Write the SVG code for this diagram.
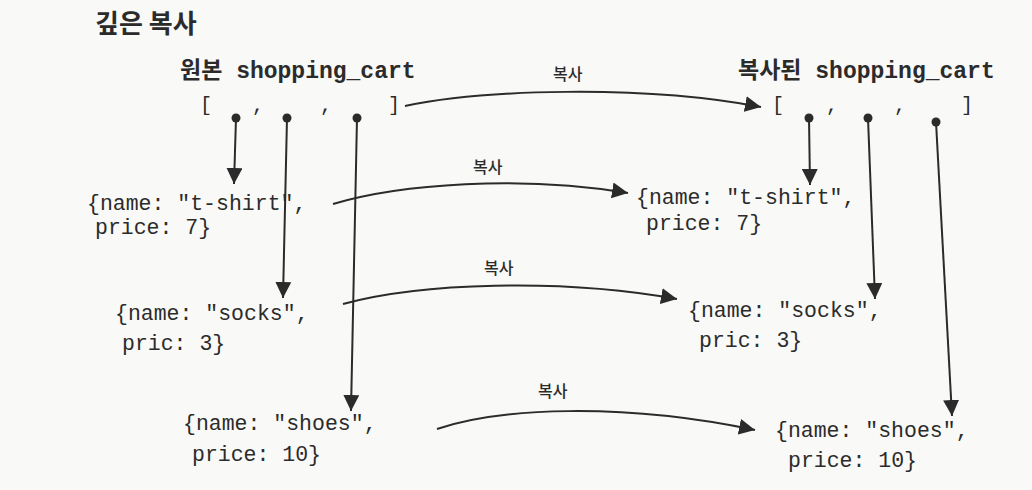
<svg xmlns="http://www.w3.org/2000/svg" width="1032" height="490" viewBox="0 0 1032 490">
<defs>
<marker id="ah" markerUnits="userSpaceOnUse" markerWidth="17" markerHeight="16" refX="16" refY="8" orient="auto">
<path d="M0,0 L16,8 L0,16 z" fill="#2b2b2b"/>
</marker>
<style>
.ko{font-family:"Noto Sans CJK KR","Noto Sans",sans-serif;fill:#2b2b2b}
.title{font-size:26px;font-weight:bold}
.hdr{font-family:"Liberation Mono","Noto Sans CJK KR",monospace;font-size:23px;font-weight:bold;fill:#2b2b2b}
.hdrko{font-family:"Noto Sans CJK KR",sans-serif;font-weight:bold}
.code{font-family:"Liberation Mono",monospace;font-size:21.5px;fill:#2b2b2b}
.br{font-family:"Liberation Mono",monospace;font-size:20px;fill:#2b2b2b}
.lbl{font-size:16px;font-weight:500}
.ln{fill:none;stroke:#2b2b2b;stroke-width:2;marker-end:url(#ah)}
.dot{fill:#2b2b2b}
</style>
</defs>
<rect width="1032" height="490" fill="#f9f9f7"/>
<text class="ko title" x="95" y="33">깊은 복사</text>

<g id="orig_cart">
<text class="hdr" x="180" y="78"><tspan class="hdrko">원본</tspan> shopping_cart</text>
<text class="br" x="200" y="111">[</text>
<text class="br" x="252" y="111">,</text>
<text class="br" x="320" y="111">,</text>
<text class="br" x="388" y="111">]</text>
<circle class="dot" cx="236" cy="118" r="4.5"/>
<circle class="dot" cx="287" cy="118" r="4.5"/>
<circle class="dot" cx="357" cy="118" r="4.5"/>
</g>

<g id="copy_cart">
<text class="hdr" x="738" y="78"><tspan class="hdrko">복사된</tspan> shopping_cart</text>
<text class="br" x="772" y="111">[</text>
<text class="br" x="826" y="111">,</text>
<text class="br" x="894" y="111">,</text>
<text class="br" x="961" y="111">]</text>
<circle class="dot" cx="809" cy="118" r="4.5"/>
<circle class="dot" cx="868" cy="118" r="4.5"/>
<circle class="dot" cx="936" cy="122" r="4.5"/>
</g>

<g id="orig_tshirt">
<text class="code" x="87" y="210">{name: "t-shirt",</text>
<text class="code" x="95" y="234">price: 7}</text>
</g>
<g id="orig_socks">
<text class="code" x="115" y="320">{name: "socks",</text>
<text class="code" x="122" y="350">pric: 3}</text>
</g>
<g id="orig_shoes">
<text class="code" x="183" y="430">{name: "shoes",</text>
<text class="code" x="192" y="461">price: 10}</text>
</g>

<g id="copy_tshirt">
<text class="code" x="636" y="204">{name: "t-shirt",</text>
<text class="code" x="646" y="230">price: 7}</text>
</g>
<g id="copy_socks">
<text class="code" x="688" y="317">{name: "socks",</text>
<text class="code" x="699" y="347">pric: 3}</text>
</g>
<g id="copy_shoes">
<text class="code" x="775" y="437">{name: "shoes",</text>
<text class="code" x="788" y="467">price: 10}</text>
</g>

<g id="connectors">
<path class="ln" d="M236,118 L234,184"/>
<path class="ln" d="M287,118 L283,298"/>
<path class="ln" d="M357,118 L351,411"/>
<path class="ln" d="M809,118 L810,185"/>
<path class="ln" d="M868,118 L875,299"/>
<path class="ln" d="M936,122 L952,416"/>
<path class="ln" d="M405,106 C480,90 640,84 761,107"/>
<path class="ln" d="M333,204 C400,184 520,175 628,193"/>
<path class="ln" d="M343,304 C420,283 560,278 677,299"/>
<path class="ln" d="M437,429 C500,408 620,402 755,430"/>
<text class="ko lbl" x="553" y="80">복사</text>
<text class="ko lbl" x="473" y="173">복사</text>
<text class="ko lbl" x="484" y="274">복사</text>
<text class="ko lbl" x="538" y="397">복사</text>
</g>
</svg>
